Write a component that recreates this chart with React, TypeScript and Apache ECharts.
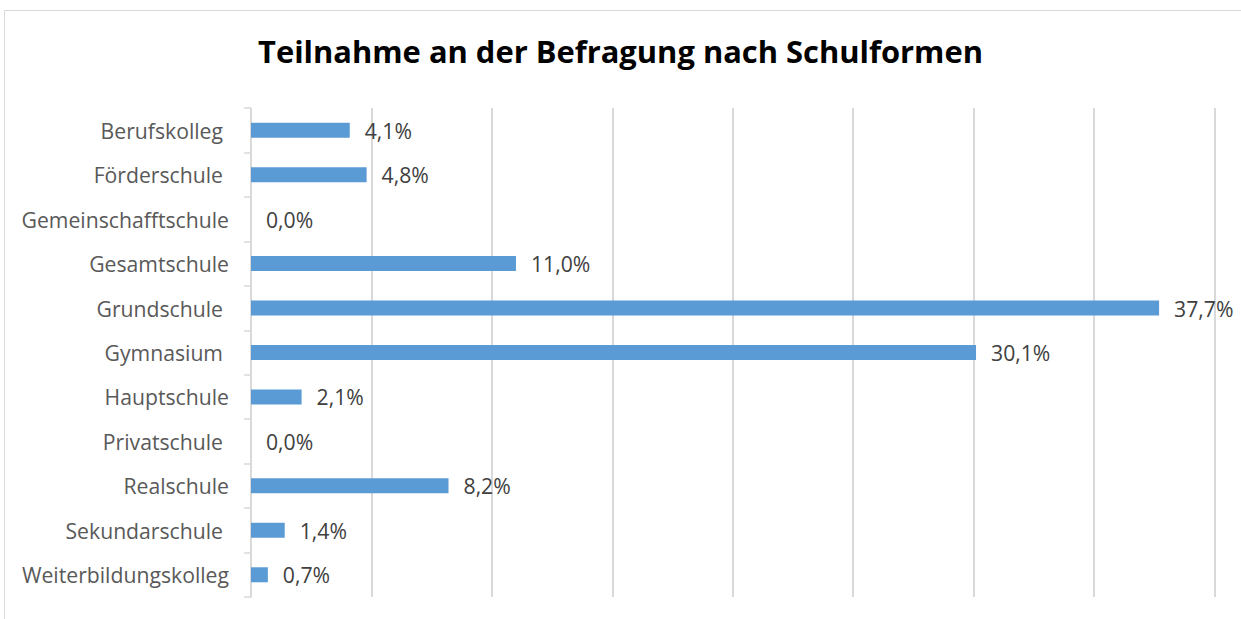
import React, { useEffect, useRef } from "react";
import * as echarts from "echarts";

const categories: string[] = [
  "Berufskolleg ",
  "Förderschule ",
  "Gemeinschafftschule",
  "Gesamtschule",
  "Grundschule ",
  "Gymnasium ",
  "Hauptschule",
  "Privatschule ",
  "Realschule",
  "Sekundarschule ",
  "Weiterbildungskolleg",
];
const values: number[] = [4.1, 4.8, 0.0, 11.0, 37.7, 30.1, 2.1, 0.0, 8.2, 1.4, 0.7];
const title = "Teilnahme an der Befragung nach Schulformen";
const xMin = 0;
const xMax = 40;
const xInterval = 5;

const FONT = "'Open Sans', 'Noto Sans', sans-serif";
const FS = 21.2;

export default function App() {
  const ref = useRef<HTMLDivElement>(null);
  useEffect(() => {
    if (!ref.current) return;
    const chart = echarts.init(ref.current, null, { renderer: "svg" });
    chart.setOption({
      animation: false,
      backgroundColor: "#ffffff",
      title: {
        text: title,
        left: "center",
        top: 30,
        textStyle: { fontFamily: FONT, fontSize: 30.9, fontWeight: "bold", color: "#000000" },
      },
      graphic: [
        {
          type: "rect",
          shape: { x: 4.5, y: 10.5, width: 1300, height: 700 },
          style: { fill: "none", stroke: "#d9d9d9", lineWidth: 1 },
          silent: true,
        },
      ],
      grid: { left: 251, right: 26.5, top: 108, bottom: 22, containLabel: false },
      xAxis: {
        type: "value",
        min: xMin,
        max: xMax,
        interval: xInterval,
        axisLabel: { show: false },
        axisLine: { show: false },
        axisTick: { show: false },
        splitLine: { show: true, lineStyle: { color: "#d9d9d9", width: 2 } },
      },
      yAxis: {
        type: "category",
        inverse: true,
        data: categories,
        axisLine: { show: true, lineStyle: { color: "#d9d9d9", width: 1.5 } },
        axisTick: { show: true, length: 7, lineStyle: { color: "#d9d9d9", width: 1.5 } },
        axisLabel: {
          margin: 22,
          fontFamily: FONT,
          fontSize: FS,
          color: "#595959",
          formatter: (v: string) =>
            v.endsWith(" ") ? `{sp|${v.trim()}}` : `{n|${v}}`,
          rich: {
            sp: { fontFamily: FONT, fontSize: FS, color: "#595959", padding: [0, 6, 0, 0] },
            n: { fontFamily: FONT, fontSize: FS, color: "#595959" },
          },
        },
      },
      series: [
        {
          type: "bar",
          data: values,
          barWidth: 15,
          itemStyle: { color: "#5b9bd5" },
          label: {
            show: true,
            position: "right",
            distance: 15,
            fontFamily: FONT,
            fontSize: FS,
            color: "#404040",
            formatter: (p: any) => `${Number(p.value).toFixed(1).replace(".", ",")}%`,
          },
        },
      ],
    });
    return () => chart.dispose();
  }, []);
  return (
    <div
      ref={ref}
      style={{ position: "absolute", left: 0, top: 0, width: 1241, height: 619 }}
    />
  );
}
